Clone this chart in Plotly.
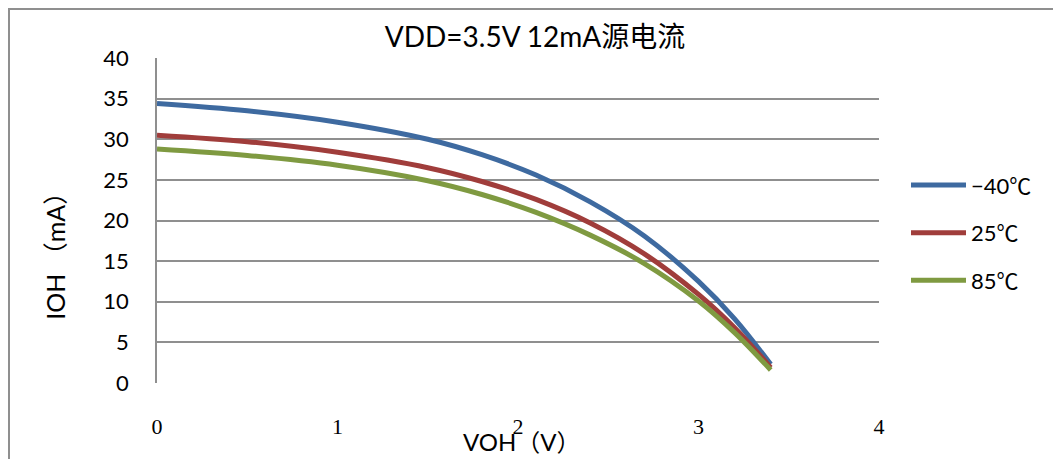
import plotly.graph_objects as go

voh = [0.0, 0.5, 1.0, 1.5, 1.8, 2.1, 2.4, 2.7, 3.0, 3.2, 3.4]
ioh_m40 = [34.4, 33.5, 32.1, 30.0, 28.1, 25.6, 22.3, 18.1, 12.5, 7.9, 2.3]
ioh_25 = [30.5, 29.7, 28.4, 26.5, 24.8, 22.6, 19.7, 15.9, 10.9, 6.8, 1.9]
ioh_85 = [28.8, 28.0, 26.8, 24.9, 23.2, 21.0, 18.2, 14.7, 10.1, 6.2, 1.6]
series_names = ["\u221240\u2103", "25\u2103", "85\u2103"]
colors = ["#3e6aa0", "#a03d3b", "#7f9a41"]

title_text = "VDD=3.5V 12mA源电流"
x_title = "VOH（V）"
y_title = "IOH （mA）"
x_ticks = [0, 1, 2, 3, 4]
y_ticks = [0, 5, 10, 15, 20, 25, 30, 35, 40]

sans = "Lato, 'Noto Sans CJK SC', sans-serif"

# page has an 8px body margin; plot area target: x 157..879, y 58..383.5 on page
L, T, PW, PH = 149, 50, 722, 325.5
W, H = 1053, 451

fig = go.Figure()
for i, (name, ys) in enumerate(zip(series_names, [ioh_m40, ioh_25, ioh_85])):
    fig.add_trace(go.Scatter(
        x=voh, y=ys, name=name, mode="lines",
        line=dict(color=colors[i], width=5, shape="spline", smoothing=1.0),
        legendgroup=f"g{i}",
    ))

def px(xp):
    return (xp - 8 - L) / PW

def py(yp):
    return (T + PH - (yp - 8)) / PH

fig.update_layout(
    width=W, height=H,
    margin=dict(l=L, r=W - L - PW, t=T, b=H - T - PH),
    paper_bgcolor="white", plot_bgcolor="white",
    title=dict(text=title_text, x=(535 - 8) / W, xanchor="center", y=1 - (37 - 8) / H, yanchor="middle",
               font=dict(family=sans, size=28, color="black")),
    legend=dict(x=px(906), xanchor="left", y=py(233), yanchor="middle",
                font=dict(family=sans, size=22, color="black"),
                tracegroupgap=16, bgcolor="rgba(0,0,0,0)", itemwidth=55),
    xaxis=dict(range=[0, 4], tickvals=x_ticks, showgrid=False, zeroline=False,
               showline=False, ticks="", ticklabelstandoff=28,
               tickfont=dict(family="'Liberation Serif', serif", size=22, color="black")),
    yaxis=dict(range=[0, 40], tickvals=y_ticks, showgrid=True, gridcolor="#8f8f8f", gridwidth=1.5,
               zeroline=False, showline=True, linecolor="#8f8f8f", linewidth=1.5,
               ticks="", ticklabelstandoff=22,
               tickfont=dict(family=sans, size=22, color="black")),
    shapes=[dict(type="rect", xref="paper", yref="paper",
                 x0=px(9), x1=px(1090),
                 y0=py(490), y1=py(9),
                 line=dict(color="#8f8f8f", width=2), fillcolor="rgba(0,0,0,0)", layer="below")],
    annotations=[
        dict(text=x_title, xref="paper", yref="paper", x=px(522), y=py(442),
             xanchor="center", yanchor="middle", showarrow=False,
             font=dict(family=sans, size=24, color="black")),
        dict(text=y_title, xref="paper", yref="paper", x=px(55), y=py(250),
             xanchor="center", yanchor="middle", showarrow=False, textangle=-90,
             font=dict(family=sans, size=25, color="black")),
    ],
)

fig.write_html("out.html")
